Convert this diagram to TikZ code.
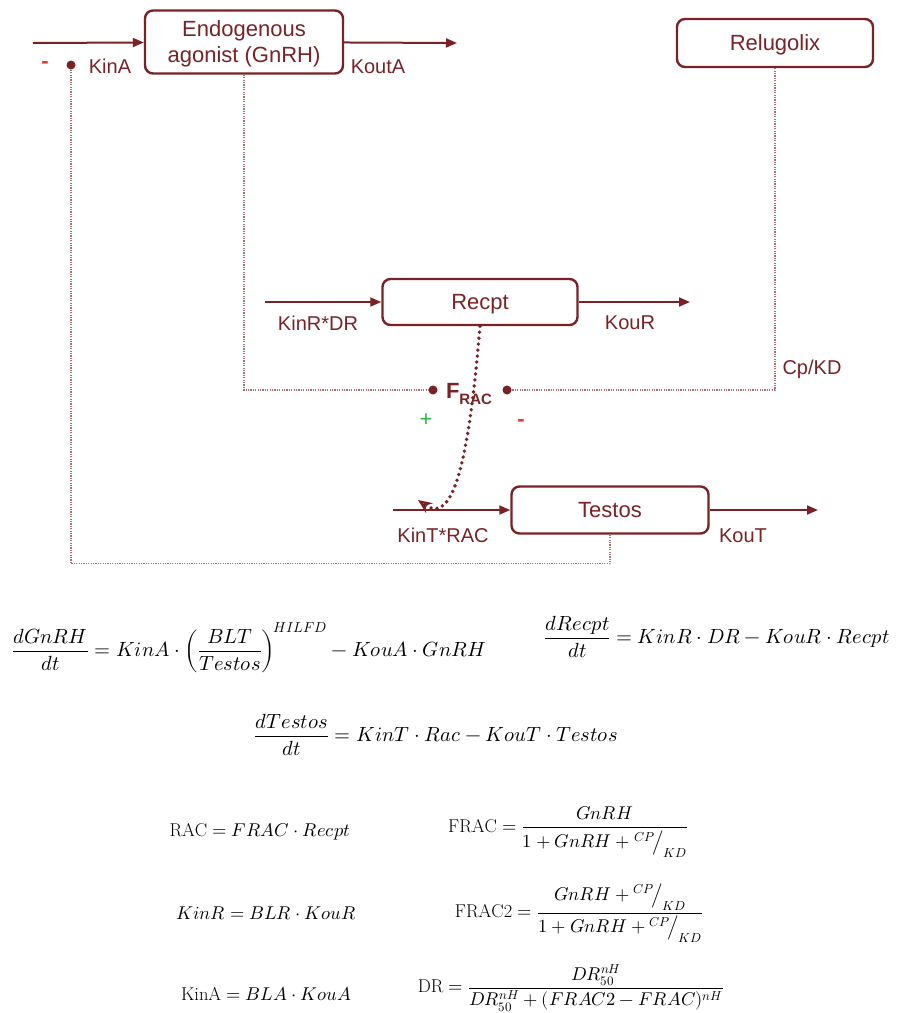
\documentclass[tikz,border=0pt]{standalone}
\usepackage{amsmath}
\usepackage{fontspec}
\usepackage{unicode-math}
\newfontfamily\diagfont{Liberation Sans}
\usetikzlibrary{arrows.meta, positioning}
\definecolor{maroon}{HTML}{7A2226}
\definecolor{plusgreen}{HTML}{2DB34A}
\definecolor{minusred}{HTML}{E83A2E}

\begin{document}
\begin{tikzpicture}[
    x=1pt, y=-1pt,
    box/.style={rectangle, draw=maroon, line width=2.4pt, rounded corners=8pt,
                text=maroon, align=center, inner sep=2pt, text depth=0pt,
                font=\diagfont\fontsize{22}{26}\selectfont},
    lbl/.style={text=maroon, inner sep=1pt, font=\diagfont\fontsize{20}{22}\selectfont},
    flow/.style={-{Triangle[length=11pt, width=9pt]}, draw=maroon, line width=2pt},
    fb/.style={draw=maroon!65, line width=1.2pt, dash pattern=on 1.2pt off 1.2pt},
    curvy/.style={-{Stealth[open, length=14pt, width=12pt, line width=2.2pt]}, draw=maroon,
                  line width=3.8pt, line cap=round, dash pattern=on 0pt off 6pt},
    dot/.style={circle, fill=maroon, inner sep=0pt, minimum size=9pt},
    sign/.style={inner sep=0pt, font=\diagfont\bfseries\fontsize{22}{24}\selectfont},
    eq/.style={inner sep=0pt, font=\fontsize{20.5}{24}\selectfont},
    eqs/.style={inner sep=0pt, font=\fontsize{18.5}{22}\selectfont},
]
\useasboundingbox (0,0) rectangle (901,1013);

% compartments
\node[box, minimum width=198pt, minimum height=63pt] (agon) at (244,42) {Endogenous\\agonist (GnRH)};
\node[box, minimum width=196pt, minimum height=48pt] (relu) at (775,43) {Relugolix};
\node[box, minimum width=195pt, minimum height=46pt] (recpt) at (480,302) {Recpt};
\node[box, minimum width=197pt, minimum height=47pt] (testos) at (610,510) {Testos};

% inputs and outputs
\coordinate (ainA) at (33,43);   \coordinate (aoutA) at (457,43);
\coordinate (ainR) at (265,302); \coordinate (aoutR) at (690,302);
\coordinate (ainT) at (393,510); \coordinate (aoutT) at (818,510);
\draw[flow] (ainA)--(agon);  \draw[flow] (agon)--(aoutA);
\draw[flow] (ainR)--(recpt); \draw[flow] (recpt)--(aoutR);
\draw[flow] (ainT)--(testos); \draw[flow] (testos)--(aoutT);

\node[lbl] (kina) at (110,66) {KinA};
\node[lbl] (kouta) at (378,67) {KoutA};
\node[lbl] (kinr) at (318,323) {KinR*DR};
\node[lbl] (kour) at (630,323) {KouR};
\node[lbl] (cpkd) at (812,369) {Cp/KD};
\node[lbl] (kint) at (443,535) {KinT*RAC};
\node[lbl] (kout) at (743,536) {KouT};

% feedback
\node[dot] (kinadot) at (71,65) {};
\node[sign, text=minusred] (minA) at (45,65) {-};
\node[dot] (fracL) at (433,390) {};
\node[dot] (fracR) at (507,390) {};
\node[text=maroon, inner sep=0pt, font=\diagfont\bfseries\fontsize{22}{24}\selectfont] (frac) at (469,394)
    {F\raisebox{-6pt}{\fontsize{15}{16}\selectfont RAC}};
\node[sign, text=plusgreen, font=\diagfont\fontsize{22}{24}\selectfont] (plusF) at (426,420) {+};
\node[sign, text=minusred] (minF) at (521,423) {-};

\draw[fb] (testos.south) -- ++(0,29) -| (kinadot);
\draw[fb] (agon.south) |- (fracL);
\draw[fb] (relu.south) |- (fracR);

\coordinate (racin) at (418,500);
\draw[curvy] (recpt.south) .. controls (468,470) and (452,524) .. (racin);

% equations
\node[eq, anchor=west] (eqgnrh) at (12,648)
    {$\dfrac{dGnRH}{dt} = KinA\cdot\left(\dfrac{BLT}{Testos}\right)^{\!HILFD} - KouA\cdot GnRH$};
\node[eq, anchor=east] (eqrecpt) at (890,637)
    {$\dfrac{dRecpt}{dt} = KinR\cdot DR - KouR\cdot Recpt$};
\node[eq] (eqtestos) at (436,735)
    {$\dfrac{dTestos}{dt} = KinT\cdot Rac - KouT\cdot Testos$};

\node[eqs] (eqrac) at (260,832) {$\mathrm{RAC} = FRAC\cdot Recpt$};
\node[eqs] (eqkinr) at (266,913) {$KinR = BLR\cdot KouR$};
\node[eqs] (eqkina) at (266,994) {$\mathrm{KinA} = BLA\cdot KouA$};
\node[eqs] (eqfrac) at (568,832)
    {$\mathrm{FRAC} = \dfrac{GnRH}{1 + GnRH + {}^{CP}\!\big/_{KD}}$};
\node[eqs] (eqfrac2) at (579,913)
    {$\mathrm{FRAC2} = \dfrac{GnRH + {}^{CP}\!\big/_{KD}}{1 + GnRH + {}^{CP}\!\big/_{KD}}$};
\node[eqs] (eqdr) at (571,988)
    {$\mathrm{DR} = \dfrac{DR_{50}^{nH}}{DR_{50}^{nH} + (FRAC2 - FRAC)^{nH}}$};
\end{tikzpicture}
\end{document}
